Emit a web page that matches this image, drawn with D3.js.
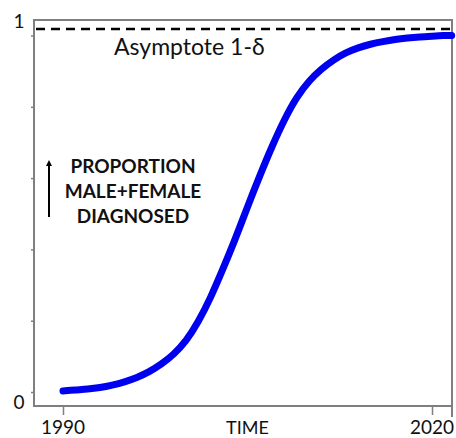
<!DOCTYPE html>
<html>
<head>
<meta charset="utf-8">
<script src="https://cdn.jsdelivr.net/npm/d3@7"></script>
<style>
  body { margin: 0; background: #fff; }
  svg text { font-family: Lato, "Open Sans", sans-serif; }
</style>
</head>
<body>
<svg id="chart" width="456" height="438"></svg>
<script>
// values
var years = [1990, 1991, 1992, 1993, 1994, 1995, 1996, 1997, 1998, 1999, 2000,
             2001, 2002, 2003, 2004, 2005, 2006, 2007, 2008, 2009, 2010,
             2011, 2012, 2013, 2014, 2015, 2016, 2017, 2018, 2019, 2020, 2021, 2021.6];
var proportion = [0.003, 0.006, 0.008, 0.012, 0.019, 0.028, 0.040, 0.056, 0.078, 0.105, 0.142,
                  0.196, 0.264, 0.345, 0.428, 0.520, 0.607, 0.690, 0.765, 0.828, 0.873,
                  0.906, 0.932, 0.952, 0.966, 0.976, 0.983, 0.989, 0.993, 0.996, 0.998, 1.0, 1.0];
var asymptote = 1.018;
var yTicks = [0, 0.2, 0.4, 0.6, 0.8, 1];
var yTickLabels = ["0", "1"];
var xTicks = [1990, 2020];
var xTickLabels = ["1990", "2020"];
var xTitle = "TIME";
var xTitleAt = 2005;
var yTitle = ["PROPORTION", "MALE+FEMALE", "DIAGNOSED"];
var asymLabel = "Asymptote 1-\u03b4";

var svg = d3.select("#chart");
var frame = {left: 34, right: 452, top: 20, bottom: 406};

var x = d3.scaleLinear().domain([1990, 2020]).range([63, 432]);
var y = d3.scaleLinear().domain([0, 1]).range([392, 35.5]);

var axisColor = "#7f7f7f";

// y ticks (no labels, labels placed at the frame ends)
var yAxis = d3.axisLeft(y).tickValues(yTicks).tickSize(3).tickFormat("");
var gy = svg.append("g")
  .attr("transform", "translate(" + frame.left + ",0)")
  .call(yAxis);
gy.select(".domain").remove();
gy.selectAll("line").attr("stroke", axisColor).attr("stroke-width", 1.5);

// x ticks
var xAxis = d3.axisBottom(x).tickValues(xTicks).tickSize(9).tickFormat("");
var gx = svg.append("g")
  .attr("transform", "translate(0," + frame.bottom + ")")
  .call(xAxis);
gx.select(".domain").remove();
gx.selectAll("line").attr("stroke", axisColor).attr("stroke-width", 1.5);

// frame
svg.append("rect")
  .attr("x", frame.left).attr("y", frame.top)
  .attr("width", frame.right - frame.left)
  .attr("height", frame.bottom - frame.top)
  .attr("fill", "none")
  .attr("stroke", axisColor)
  .attr("stroke-width", 2);
svg.append("line")
  .attr("x1", frame.right).attr("x2", frame.right)
  .attr("y1", frame.bottom).attr("y2", frame.bottom + 11)
  .attr("stroke", axisColor).attr("stroke-width", 2);

// asymptote
svg.append("line")
  .attr("x1", frame.left + 2).attr("x2", frame.right)
  .attr("y1", y(asymptote)).attr("y2", y(asymptote))
  .attr("stroke", "#000")
  .attr("stroke-width", 2.5)
  .attr("stroke-dasharray", "9,6");

svg.append("text")
  .attr("x", 114).attr("y", 55)
  .attr("font-size", 23)
  .attr("fill", "#111")
  .text(asymLabel);

// curve
var line = d3.line()
  .curve(d3.curveBasis)
  .x(function(d, i) { return x(years[i]); })
  .y(function(d) { return y(d); });

svg.append("path")
  .datum(proportion)
  .attr("d", line)
  .attr("fill", "none")
  .attr("stroke", "#0000f0")
  .attr("stroke-width", 7)
  .attr("stroke-linecap", "round");

// tick labels
svg.selectAll(".xlab")
  .data(xTickLabels)
  .enter().append("text")
  .attr("class", "xlab")
  .attr("x", function(d, i) { return x(xTicks[i]); })
  .attr("y", 434)
  .attr("text-anchor", "middle")
  .attr("font-size", 19)
  .attr("fill", "#111")
  .text(function(d) { return d; });

svg.append("text")
  .attr("x", x(xTitleAt)).attr("y", 434)
  .attr("text-anchor", "middle")
  .attr("font-size", 18)
  .attr("fill", "#111")
  .text(xTitle);

svg.append("text")
  .attr("x", 19).attr("y", frame.bottom - 2)
  .attr("text-anchor", "middle").attr("dominant-baseline", "middle")
  .attr("font-size", 19).attr("fill", "#111")
  .text(yTickLabels[0]);
svg.append("text")
  .attr("x", 19).attr("y", frame.top + 3)
  .attr("text-anchor", "middle").attr("dominant-baseline", "middle")
  .attr("font-size", 19).attr("fill", "#111")
  .text(yTickLabels[1]);

// y title with arrow
svg.append("defs").append("marker")
  .attr("id", "arrow")
  .attr("viewBox", "0 0 10 10")
  .attr("refX", 5).attr("refY", 5)
  .attr("markerWidth", 3).attr("markerHeight", 3.5)
  .attr("orient", "auto")
  .append("path")
  .attr("d", "M0,0 L10,5 L0,10 z")
  .attr("fill", "#000");

svg.append("line")
  .attr("x1", 49).attr("x2", 49)
  .attr("y1", 217).attr("y2", 163)
  .attr("stroke", "#000")
  .attr("stroke-width", 2)
  .attr("marker-end", "url(#arrow)");

svg.selectAll(".ytitle")
  .data(yTitle)
  .enter().append("text")
  .attr("class", "ytitle")
  .attr("x", 133)
  .attr("y", function(d, i) { return 173 + i * 25; })
  .attr("text-anchor", "middle")
  .attr("font-size", 19)
  .attr("font-weight", "bold")
  .attr("fill", "#111")
  .text(function(d) { return d; });
</script>
</body>
</html>
